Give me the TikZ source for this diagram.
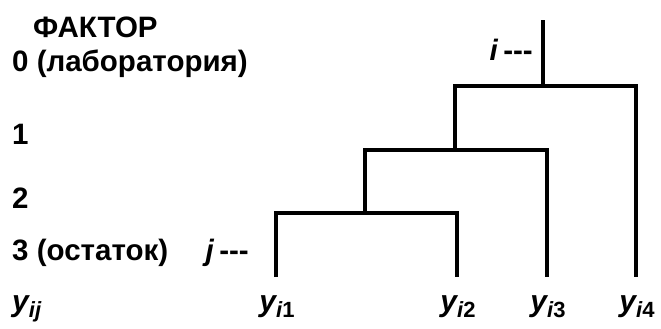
\documentclass[tikz,border=0pt]{standalone}
\usepackage{fontspec}
\setmainfont{Liberation Sans}
\usetikzlibrary{positioning}
\newcommand{\subidx}[1]{\raisebox{-0.22em}{\fontsize{22}{24}\selectfont #1}}

\begin{document}
\begin{tikzpicture}
[x=1pt,y=-1pt,%
  lineDecorate/.style={-,line width=4.5pt,line join=miter},%
  levelDecorate/.style={anchor=base west,inner sep=0pt,font=\fontsize{29.5}{32}\selectfont\bfseries},%
  leafDecorate/.style={anchor=base,inner sep=0pt,font=\fontsize{30}{32}\selectfont\bfseries\itshape}]
\useasboundingbox (0,0) rectangle (661,329);
%% factor levels
\foreach \nodename/\x/\y/\txt in {
  fac/33/38/ФАКТОР, lev0/12/71/0 (лаборатория), lev1/12/144/1,
  lev2/12/208/2, lev3/12/260/3 (остаток)}
{
  \node (\nodename) at (\x,\y) [levelDecorate] {\txt};
}
\node (idx) at (533,60) [levelDecorate,anchor=base east] {\textit{i}\hspace{5pt}-{}-{}-};
\node (jdx) at (249,260) [levelDecorate,anchor=base east] {\textit{j}\hspace{5pt}-{}-{}-};
%% joints of the tree
\foreach \nodename/\x/\y in {
  root/543/20, k0/543/86, k1/455/150, k2/365/213,
  l1/276/277, l2/457/277, l3/547/277, l4/636/277}
{
  \coordinate (\nodename) at (\x,\y);
}
%% leaves
\node (yij) at (12,311) [leafDecorate,anchor=base west] {y\subidx{ij}};
\foreach \leaf/\num in {l1/1, l2/2, l3/3, l4/4}
{
  \node (y\num) at ([xshift=1pt]\leaf |- yij.base) [leafDecorate] {y\subidx{i\upshape\num}};
}
%% branches
\draw[lineDecorate] (l1) |- (k2) -| (l2);
\draw[lineDecorate] (k2) |- (k1) -| (l3);
\draw[lineDecorate] (k1) |- (k0) -| (l4);
\draw[lineDecorate] (k0) -- (root);
\end{tikzpicture}
\end{document}
